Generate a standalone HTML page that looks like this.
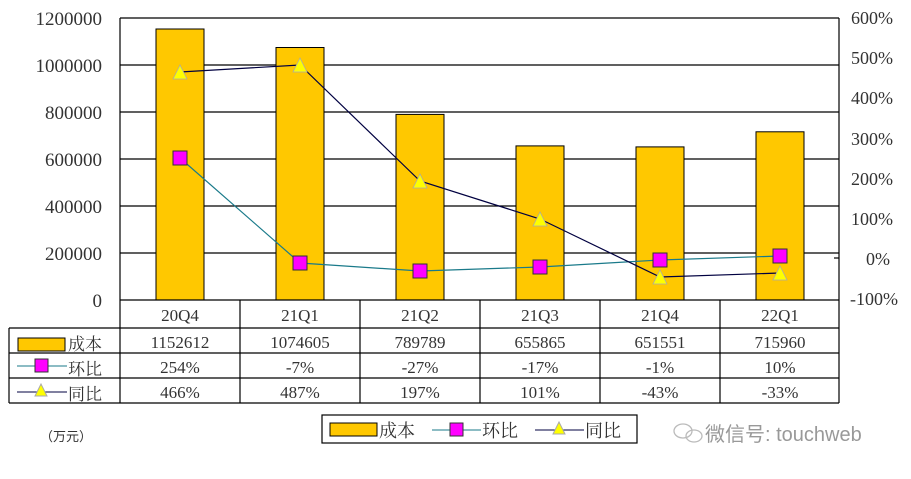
<!DOCTYPE html>
<html><head><meta charset="utf-8"><style>
html,body{margin:0;padding:0;background:#fff;}
text{font-family:"Liberation Serif","Noto Serif CJK SC",serif;fill:#333;}
.c{font-family:"Liberation Sans","Noto Sans CJK SC",sans-serif;}
</style></head><body>
<svg width="911" height="474" viewBox="0 0 911 474" xmlns="http://www.w3.org/2000/svg">
<rect width="911" height="474" fill="#fff"/>
<g stroke="#000" stroke-width="1.2">
<line x1="120" y1="18" x2="839" y2="18"/>
<line x1="120" y1="65" x2="839" y2="65"/>
<line x1="120" y1="112" x2="839" y2="112"/>
<line x1="120" y1="159" x2="839" y2="159"/>
<line x1="120" y1="206" x2="839" y2="206"/>
<line x1="120" y1="253" x2="839" y2="253"/>
<line x1="120" y1="18" x2="120" y2="403"/>
<line x1="839" y1="18" x2="839" y2="403"/>
<line x1="834" y1="258" x2="839" y2="258"/>
</g>
<g fill="#FFC800" stroke="#000" stroke-width="1">
<rect x="156" y="29" width="48" height="271"/>
<rect x="276" y="47.5" width="48" height="252.5"/>
<rect x="396" y="114.4" width="48" height="185.6"/>
<rect x="516" y="145.9" width="48" height="154.1"/>
<rect x="636" y="146.9" width="48" height="153.1"/>
<rect x="756" y="131.8" width="48" height="168.2"/>
</g>
<polyline points="180,158 300,263 420,271 540,267 660,260 780,256" fill="none" stroke="#1a7a8a" stroke-width="1.2"/>
<polyline points="180,72 300,65 420,181 540,219 660,277 780,273" fill="none" stroke="#000040" stroke-width="1.2"/>
<g fill="#FF00FF" stroke="#333" stroke-width="1">
<rect x="173" y="151" width="14" height="14"/><rect x="293" y="256" width="14" height="14"/><rect x="413" y="264" width="14" height="14"/><rect x="533" y="260" width="14" height="14"/><rect x="653" y="253" width="14" height="14"/><rect x="773" y="249" width="14" height="14"/>
</g>
<g fill="#FFFF00" stroke="#aaa" stroke-width="0.8">
<polygon points="180,65 173,79 187,79"/><polygon points="300,58 293,72 307,72"/><polygon points="420,174 413,188 427,188"/><polygon points="540,212 533,226 547,226"/><polygon points="660,270 653,284 667,284"/><polygon points="780,266 773,280 787,280"/>
</g>
<g stroke="#000" stroke-width="1.2" fill="none">
<line x1="120" y1="300" x2="839" y2="300"/>
<line x1="9" y1="328" x2="839" y2="328"/>
<line x1="9" y1="353" x2="839" y2="353"/>
<line x1="9" y1="378" x2="839" y2="378"/>
<line x1="9" y1="403" x2="839" y2="403"/>
<line x1="9" y1="328" x2="9" y2="403"/>
<line x1="240" y1="300" x2="240" y2="403"/><line x1="360" y1="300" x2="360" y2="403"/><line x1="480" y1="300" x2="480" y2="403"/><line x1="600" y1="300" x2="600" y2="403"/><line x1="720" y1="300" x2="720" y2="403"/>
</g>
<g font-size="19" text-anchor="end">
<text x="102" y="25">1200000</text><text x="102" y="72">1000000</text><text x="102" y="119">800000</text><text x="102" y="166">600000</text><text x="102" y="213">400000</text><text x="102" y="260">200000</text><text x="102" y="307">0</text>
</g>
<g font-size="18" text-anchor="start">
<text x="851" y="24">600%</text><text x="851" y="64">500%</text><text x="851" y="104">400%</text><text x="851" y="145">300%</text><text x="851" y="185">200%</text><text x="851" y="225">100%</text><text x="866" y="265">0%</text><text x="850" y="305">-100%</text>
</g>
<g font-size="17" text-anchor="middle">
<text x="180" y="321">20Q4</text><text x="300" y="321">21Q1</text><text x="420" y="321">21Q2</text><text x="540" y="321">21Q3</text><text x="660" y="321">21Q4</text><text x="780" y="321">22Q1</text>
<text x="180" y="348">1152612</text><text x="300" y="348">1074605</text><text x="420" y="348">789789</text><text x="540" y="348">655865</text><text x="660" y="348">651551</text><text x="780" y="348">715960</text>
<text x="180" y="373">254%</text><text x="300" y="373">-7%</text><text x="420" y="373">-27%</text><text x="540" y="373">-17%</text><text x="660" y="373">-1%</text><text x="780" y="373">10%</text>
<text x="180" y="398">466%</text><text x="300" y="398">487%</text><text x="420" y="398">197%</text><text x="540" y="398">101%</text><text x="660" y="398">-43%</text><text x="780" y="398">-33%</text>
</g>
<rect x="18" y="338" width="47" height="13" fill="#FFC800" stroke="#000"/>
<line x1="17" y1="366" x2="67" y2="366" stroke="#1a7a8a"/><rect x="35" y="359" width="13" height="13" fill="#FF00FF" stroke="#333"/>
<line x1="17" y1="392" x2="67" y2="392" stroke="#000040"/><polygon points="41,384 35,396 47,396" fill="#FFFF00" stroke="#aaa"/>
<g font-size="17" class="c"><text x="68" y="350">成本</text><text x="68" y="375">环比</text><text x="68" y="400">同比</text></g>
<text x="40" y="441" font-size="13" class="c">（万元）</text>
<rect x="322" y="415" width="315" height="28" fill="#fff" stroke="#000" stroke-width="1.2"/>
<rect x="330" y="423" width="47" height="13" fill="#FFC800" stroke="#000"/>
<line x1="432" y1="430" x2="481" y2="430" stroke="#1a7a8a"/><rect x="450" y="423" width="13" height="13" fill="#FF00FF" stroke="#333"/>
<line x1="535" y1="430" x2="584" y2="430" stroke="#000040"/><polygon points="559,422 553,434 565,434" fill="#FFFF00" stroke="#aaa"/>
<g font-size="18" class="c"><text x="379" y="437">成本</text><text x="482" y="437">环比</text><text x="585" y="437">同比</text></g>
<g fill="none" stroke="#bbb" stroke-width="1.3"><ellipse cx="683" cy="431" rx="9" ry="7"/><ellipse cx="694" cy="436" rx="8" ry="6"/></g>
<text x="705" y="441" font-size="20" class="c" style="fill:#999">微信号: touchweb</text>
</svg>
</body></html>
